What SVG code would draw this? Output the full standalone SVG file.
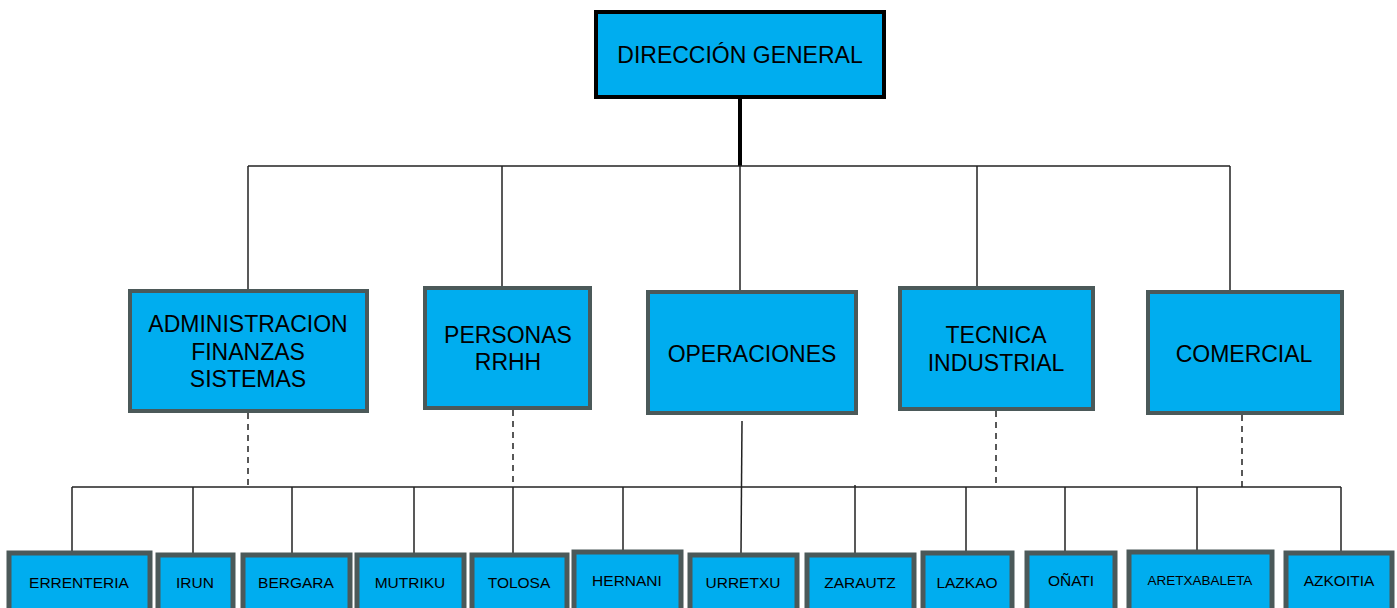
<svg xmlns="http://www.w3.org/2000/svg" width="1397" height="608" viewBox="0 0 1397 608">
<style>
.box{fill:#00adef;stroke:#4b5959;stroke-width:4}
.sbox{fill:#00adef;stroke:#4b5959;stroke-width:5}
.top{fill:#00adef;stroke:#000;stroke-width:4}
text{font-family:"Liberation Sans",Arial,sans-serif;fill:#000;text-anchor:middle}
.t1{font-size:23px}
.t2{font-size:23px}
.t3{font-size:15.5px}
.ln{stroke:#222;stroke-width:1.5;fill:none}
.dl{stroke:#222;stroke-width:1.5;fill:none;stroke-dasharray:6 5}
</style>
<g id="connectors">
<line x1="740" y1="97" x2="740" y2="166" stroke="#000" stroke-width="4"/>
<line class="ln" x1="248" y1="166" x2="1230" y2="166"/>
<line class="ln" x1="248" y1="166" x2="248" y2="289"/>
<line class="ln" x1="502" y1="166" x2="502" y2="286"/>
<line class="ln" x1="740" y1="166" x2="740" y2="291"/>
<line class="ln" x1="977" y1="166" x2="977" y2="287"/>
<line class="ln" x1="1230" y1="166" x2="1230" y2="291"/>
<line class="dl" x1="248" y1="413" x2="248" y2="487"/>
<line class="dl" x1="513" y1="410" x2="513" y2="487"/>
<line class="dl" x1="996" y1="411" x2="996" y2="487"/>
<line class="dl" x1="1242" y1="415" x2="1242" y2="487"/>
<line class="ln" x1="742" y1="421" x2="741" y2="553"/>
<line class="ln" x1="72" y1="487" x2="1341" y2="487"/>
<line class="ln" x1="72" y1="487" x2="72" y2="552"/>
<line class="ln" x1="193" y1="487" x2="193" y2="553"/>
<line class="ln" x1="292" y1="487" x2="292" y2="553"/>
<line class="ln" x1="414" y1="487" x2="414" y2="553"/>
<line class="ln" x1="513" y1="487" x2="513" y2="553"/>
<line class="ln" x1="623" y1="487" x2="623" y2="551"/>
<line class="ln" x1="855" y1="485" x2="855" y2="553"/>
<line class="ln" x1="966" y1="487" x2="966" y2="552"/>
<line class="ln" x1="1065" y1="487" x2="1065" y2="552"/>
<line class="ln" x1="1197" y1="487" x2="1197" y2="552"/>
<line class="ln" x1="1341" y1="487" x2="1341" y2="553"/>
</g>
<g id="direccion"><rect class="top" x="596" y="12" width="288" height="85"/><text class="t1" x="740" y="63">DIRECCIÓN GENERAL</text></g>
<g id="administracion"><rect class="box" x="130" y="291" width="237" height="120"/><text class="t2" x="248" y="332">ADMINISTRACION</text><text class="t2" x="248" y="360">FINANZAS</text><text class="t2" x="248" y="387">SISTEMAS</text></g>
<g id="personas"><rect class="box" x="425" y="288" width="165" height="120"/><text class="t2" x="508" y="343">PERSONAS</text><text class="t2" x="508" y="370">RRHH</text></g>
<g id="operaciones"><rect class="box" x="648" y="292" width="208" height="121"/><text class="t2" x="752" y="362">OPERACIONES</text></g>
<g id="tecnica"><rect class="box" x="900" y="288" width="193" height="121"/><text class="t2" x="996" y="343">TECNICA</text><text class="t2" x="996" y="371">INDUSTRIAL</text></g>
<g id="comercial"><rect class="box" x="1148" y="292" width="194" height="121"/><text class="t2" x="1244" y="362">COMERCIAL</text></g>
<g id="errenteria"><rect class="sbox" x="9" y="553" width="141" height="60"/><text class="t3" x="79" y="588">ERRENTERIA</text></g>
<g id="irun"><rect class="sbox" x="158" y="555" width="75" height="60"/><text class="t3" x="195" y="588">IRUN</text></g>
<g id="bergara"><rect class="sbox" x="243" y="555" width="107" height="60"/><text class="t3" x="296" y="588">BERGARA</text></g>
<g id="mutriku"><rect class="sbox" x="357" y="555" width="107" height="60"/><text class="t3" x="410" y="588">MUTRIKU</text></g>
<g id="tolosa"><rect class="sbox" x="472" y="555" width="95" height="60"/><text class="t3" x="519" y="588">TOLOSA</text></g>
<g id="hernani"><rect class="sbox" x="574" y="552" width="107" height="60"/><text class="t3" x="627" y="586">HERNANI</text></g>
<g id="urretxu"><rect class="sbox" x="690" y="555" width="107" height="60"/><text class="t3" x="743" y="588">URRETXU</text></g>
<g id="zarautz"><rect class="sbox" x="807" y="555" width="107" height="60"/><text class="t3" x="860" y="588">ZARAUTZ</text></g>
<g id="lazkao"><rect class="sbox" x="923" y="553" width="89" height="60"/><text class="t3" x="967" y="588">LAZKAO</text></g>
<g id="onati"><rect class="sbox" x="1027" y="553" width="88" height="60"/><text class="t3" x="1071" y="586">OÑATI</text></g>
<g id="aretxabaleta"><rect class="sbox" x="1129" y="552" width="143" height="60"/><text x="1200" y="585" style="font-size:13.5px">ARETXABALETA</text></g>
<g id="azkoitia"><rect class="sbox" x="1286" y="553" width="106" height="60"/><text class="t3" x="1339" y="586">AZKOITIA</text></g>
</svg>
